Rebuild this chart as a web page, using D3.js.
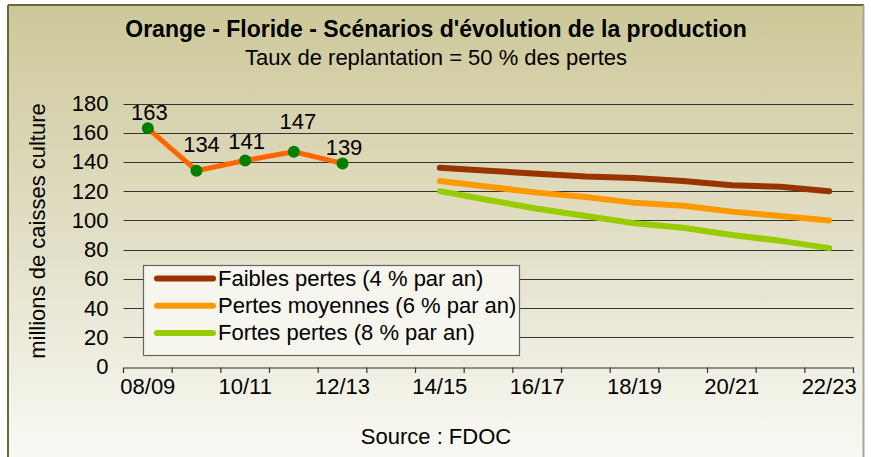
<!DOCTYPE html>
<html>
<head>
<meta charset="utf-8">
<script src="https://cdn.jsdelivr.net/npm/d3@7"></script>
<style>
  html, body { margin: 0; padding: 0; background: #ffffff; }
  svg { display: block; font-family: "Liberation Sans", Arial, sans-serif; }
</style>
</head>
<body>
<svg id="chart" width="871" height="457"></svg>
<script>
// ---------- DATA ----------
const categories = ["08/09","09/10","10/11","11/12","12/13","13/14","14/15","15/16","16/17","17/18","18/19","19/20","20/21","21/22","22/23"];
const tickLabels = ["08/09","10/11","12/13","14/15","16/17","18/19","20/21","22/23"];
const yTicks = [0,20,40,60,80,100,120,140,160,180];

const historicalCategories = ["08/09","09/10","10/11","11/12","12/13"];
const historicalValues = [163,134,141,147,139];

const scenarioCategories = ["14/15","15/16","16/17","17/18","18/19","19/20","20/21","21/22","22/23"];
const faiblesValues  = [136,134,132,130,129,127,124,123,120];
const moyennesValues = [127,123,119,116,112,110,106,103,100];
const fortesValues   = [120,114,108,103,98,95,90,86,81];

const seriesNames = ["Faibles pertes (4 % par an)","Pertes moyennes (6 % par an)","Fortes pertes (8 % par an)"];

const titleText = "Orange - Floride - Scénarios d'évolution de la production";
const subtitleText = "Taux de replantation = 50 % des pertes";
const yAxisTitle = "millions de caisses culture";
const sourceText = "Source : FDOC";

// ---------- LAYOUT / STYLE ----------
const seriesColors = ["#993300","#ff9900","#99cc00"];
const histColor = "#ff6600";
const markerColor = "#008000";
const labelOffsets = [[1.5,-8.5],[5,-19],[1.5,-11],[4,-22.5],[1.5,-8.5]];
const FS = "22px";

const svg = d3.select("#chart");

// background gradient
const defs = svg.append("defs");
const grad = defs.append("linearGradient").attr("id","bg").attr("x1",0).attr("y1",0).attr("x2",0).attr("y2",1);
grad.append("stop").attr("offset","0%").attr("stop-color","#cdc899");
grad.append("stop").attr("offset","55%").attr("stop-color","#e4e1cb");
grad.append("stop").attr("offset","100%").attr("stop-color","#fafaf6");

svg.append("rect").attr("x",9).attr("y",6).attr("width",854).attr("height",460)
  .attr("fill","url(#bg)");
// borders
svg.append("line").attr("x1",8).attr("x2",8).attr("y1",5).attr("y2",457).attr("stroke","#6b6838").attr("stroke-width",2);
svg.append("line").attr("x1",8).attr("x2",864).attr("y1",5).attr("y2",5).attr("stroke","#6b6838").attr("stroke-width",2);
svg.append("line").attr("x1",863.5).attr("x2",863.5).attr("y1",5).attr("y2",457).attr("stroke","#a9a68e").attr("stroke-width",2);

// scales
const x = d3.scaleBand().domain(categories).range([123.5, 853.5]).paddingInner(0).paddingOuter(0);
const cx = c => x(c) + x.bandwidth()/2;
const y = d3.scaleLinear().domain([0,180]).range([366.5, 103.5]);

// y axis labels
const yAxis = d3.axisLeft(y).tickValues(yTicks).tickSize(0).tickPadding(15);
const yg = svg.append("g").attr("transform","translate(123.5,0)").call(yAxis);
yg.select(".domain").remove();
yg.selectAll("text").attr("font-size",FS).attr("fill","#000").attr("font-family","Liberation Sans, Arial, sans-serif");

// gridlines
svg.append("g").selectAll("line").data(yTicks.filter(d=>d>0)).join("line")
  .attr("x1",123.5).attr("x2",853.5)
  .attr("y1",d=>Math.round(y(d))+0.5).attr("y2",d=>Math.round(y(d))+0.5)
  .attr("stroke","#333").attr("stroke-width",1.2);

// x axis
const xAxis = d3.axisBottom(x).tickValues(tickLabels).tickSize(0).tickPadding(11);
const xg = svg.append("g").attr("transform",`translate(0,${Math.round(y(0))+0.5})`).call(xAxis);
xg.select(".domain").attr("stroke","#333").attr("stroke-width",1.2);
xg.selectAll("text").attr("font-size",FS).attr("fill","#000").attr("font-family","Liberation Sans, Arial, sans-serif");
// tick marks at category boundaries
const boundaries = categories.map(c => x(c)).concat([x.range()[1]]);
svg.append("g").selectAll("line").data(boundaries).join("line")
  .attr("x1",d=>d).attr("x2",d=>d)
  .attr("y1",Math.round(y(0))+0.5).attr("y2",Math.round(y(0))+6)
  .attr("stroke","#333").attr("stroke-width",1.2);

// scenario lines
const line = d3.line().x(d=>cx(d[0])).y(d=>y(d[1]));
[faiblesValues, moyennesValues, fortesValues].forEach((vals,i)=>{
  svg.append("path").datum(scenarioCategories.map((c,j)=>[c,vals[j]]))
    .attr("d",line).attr("fill","none").attr("stroke",seriesColors[i])
    .attr("stroke-width",6).attr("stroke-linecap","round").attr("stroke-linejoin","round");
});

// historical line
const histData = historicalCategories.map((c,j)=>[c,historicalValues[j]]);
svg.append("path").datum(histData).attr("d",line).attr("fill","none")
  .attr("stroke",histColor).attr("stroke-width",5).attr("stroke-linejoin","round");
svg.append("g").selectAll("circle").data(histData).join("circle")
  .attr("cx",d=>cx(d[0])).attr("cy",d=>y(d[1])).attr("r",6).attr("fill",markerColor);
svg.append("g").selectAll("text").data(histData).join("text")
  .attr("x",(d,i)=>cx(d[0])+labelOffsets[i][0]).attr("y",(d,i)=>y(d[1])+labelOffsets[i][1])
  .attr("text-anchor","middle").attr("font-size",FS).attr("fill","#000")
  .text(d=>d[1]);

// legend
const lg = svg.append("g");
lg.append("rect").attr("x",143.5).attr("y",265.5).attr("width",376).attr("height",90)
  .attr("fill","#f6f5ee").attr("stroke","#666").attr("stroke-width",1.2);
seriesNames.forEach((name,i)=>{
  const ly = 278.5 + i*27.2;
  lg.append("line").attr("x1",157).attr("x2",213).attr("y1",ly).attr("y2",ly)
    .attr("stroke",seriesColors[i]).attr("stroke-width",6).attr("stroke-linecap","round");
  lg.append("text").attr("x",218).attr("y",ly+7.5).attr("font-size",FS).attr("fill","#000").text(name);
});

// titles
svg.append("text").attr("x",436).attr("y",37).attr("text-anchor","middle")
  .attr("font-size","23px").attr("font-weight","bold").attr("fill","#000").text(titleText);
svg.append("text").attr("x",436).attr("y",65).attr("text-anchor","middle")
  .attr("font-size",FS).attr("fill","#000").text(subtitleText);
svg.append("text").attr("transform","translate(45,231) rotate(-90)").attr("text-anchor","middle")
  .attr("font-size",FS).attr("fill","#000").text(yAxisTitle);
svg.append("text").attr("x",436).attr("y",444).attr("text-anchor","middle")
  .attr("font-size",FS).attr("fill","#000").text(sourceText);
</script>
</body>
</html>
